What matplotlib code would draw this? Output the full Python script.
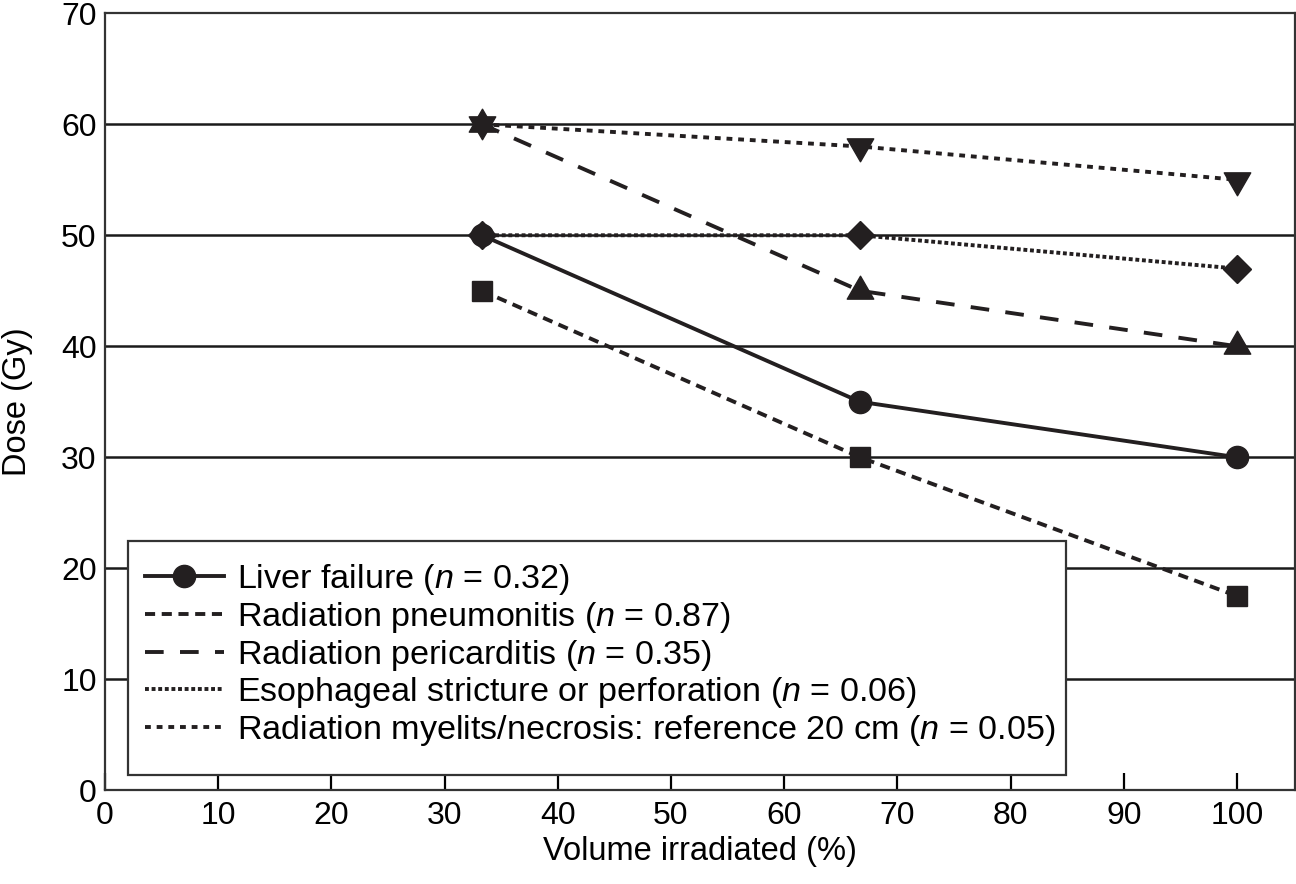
import matplotlib
matplotlib.use("Agg")
import matplotlib.pyplot as plt
from matplotlib.lines import Line2D
from matplotlib.patches import Rectangle
from matplotlib.path import Path

plt.rcParams['font.family'] = ['Liberation Sans', 'DejaVu Sans']
plt.rcParams['mathtext.fontset'] = 'custom'
plt.rcParams['mathtext.rm'] = 'Liberation Sans'
plt.rcParams['mathtext.it'] = 'Liberation Sans:italic'

volume = [33.3, 66.7, 100]
liver = [50, 35, 30]
pneumonitis = [45, 30, 17.5]
pericarditis = [60, 45, 40]
esophageal = [50, 50, 47]
myelitis = [60, 58, 55]

labels = ["Liver failure ($n$ = 0.32)",
          "Radiation pneumonitis ($n$ = 0.87)",
          "Radiation pericarditis ($n$ = 0.35)",
          "Esophageal stricture or perforation ($n$ = 0.06)",
          "Radiation myelits/necrosis: reference 20 cm ($n$ = 0.05)"]

# triangles centred on their centroid, so up + down overlap as a star
tri_up = Path([(0, 1), (-0.866, -0.5), (0.866, -0.5), (0, 1)], closed=True)
tri_down = Path([(0, -1), (-0.866, 0.5), (0.866, 0.5), (0, -1)], closed=True)

fig = plt.figure(figsize=(12.96, 8.84), dpi=100)
ax = fig.add_axes([0.081, 0.106, 0.918, 0.879])

for y in range(10, 70, 10):
    ax.axhline(y, color='#1a1a1a', lw=1.8, zorder=1)

lw = 2.8
c = '#231f20'
ls_pneu = (0, (2.6, 1.7))
ls_peri = (0, (4.8, 4.2))
ls_eso = (0, (1.0, 0.7))
ls_mye = (0, (1.5, 1.5))

ax.plot(volume, liver, '-', color=c, lw=lw, marker='o', ms=16, zorder=3)
ax.plot(volume, pneumonitis, color=c, lw=lw, ls=ls_pneu, marker='s', ms=15, zorder=3)
ax.plot(volume, pericarditis, color=c, lw=lw, ls=ls_peri, marker=tri_up, ms=22, zorder=3)
ax.plot(volume, esophageal, color=c, lw=lw, ls=ls_eso, marker='D', ms=14, zorder=3)
ax.plot(volume, myelitis, color=c, lw=lw, ls=ls_mye, marker=tri_down, ms=22, zorder=3)

ax.set_xlim(0, 105.1)
ax.set_ylim(0, 70)
ax.set_xticks(range(0, 101, 10))
ax.set_yticks(range(0, 71, 10))
ax.tick_params(axis='x', direction='in', length=12, width=1.6, labelsize=23, pad=8)
ax.tick_params(axis='y', length=0, labelsize=23, pad=6)
for s in ax.spines.values():
    s.set_linewidth(1.6)
    s.set_color('#333333')
ax.set_xlabel("Volume irradiated (%)", fontsize=23.5, labelpad=3)
ax.set_ylabel("Dose (Gy)", fontsize=23.5, labelpad=20)

# legend box drawn as its own white rectangle
ax.add_patch(Rectangle((0.0193, 0.0193), 0.7883, 0.3012, transform=ax.transAxes,
                       facecolor='white', edgecolor='#333333', lw=1.6, zorder=2))

handles = [
    Line2D([], [], color=c, lw=lw, marker='o', ms=16),
    Line2D([], [], color=c, lw=lw, ls=ls_pneu),
    Line2D([], [], color=c, lw=lw, ls=ls_peri),
    Line2D([], [], color=c, lw=lw, ls=ls_eso),
    Line2D([], [], color=c, lw=lw, ls=ls_mye),
]
leg = ax.legend(handles, labels, loc='upper left', bbox_to_anchor=(0.0336, 0.2936),
                fontsize=24.6, frameon=False, handlelength=2.3,
                handletextpad=0.39, labelspacing=0.08, borderpad=0, borderaxespad=0)
leg.set_zorder(4)

fig.savefig("out.png", dpi=100)
